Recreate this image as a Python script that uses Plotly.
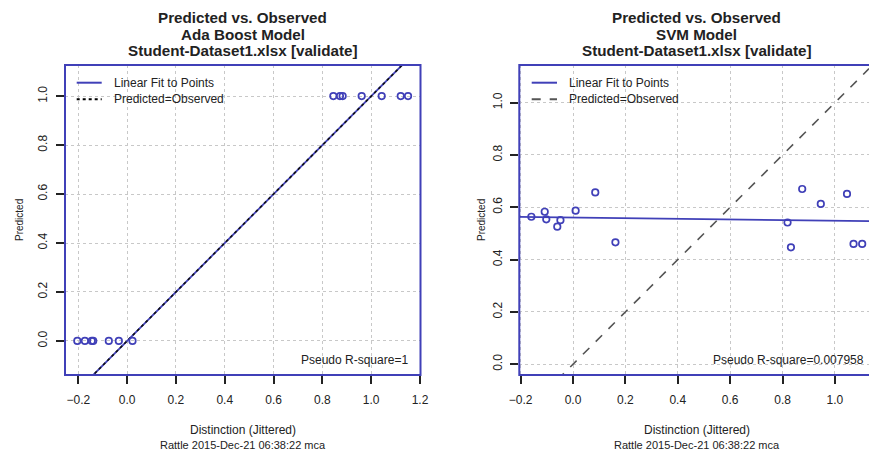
import numpy as np
import plotly.graph_objects as go

W, H = 869, 456

# Ada Boost model: jittered observed class vs predicted
ada_x = [-0.204, -0.173, -0.145, -0.139, -0.075, -0.034, 0.022,
         0.845, 0.872, 0.883, 0.961, 1.043, 1.121, 1.151]
ada_pred = [0, 0, 0, 0, 0, 0, 0, 1, 1, 1, 1, 1, 1, 1]

# SVM model
svm_x = [-0.159, -0.108, -0.102, -0.060, -0.048, 0.010, 0.085, 0.162,
         0.819, 0.832, 0.875, 0.946, 1.046, 1.071, 1.104]
svm_pred = [0.564, 0.583, 0.554, 0.526, 0.551, 0.587, 0.657, 0.466,
            0.542, 0.447, 0.670, 0.613, 0.651, 0.460, 0.460]

model_names = ["Ada Boost Model", "SVM Model"]
rsq_labels = ["Pseudo R-square=1", "Pseudo R-square=0.007958"]
x_title = "Distinction (Jittered)"
sub_title = "Rattle 2015-Dec-21 06:38:22 mca"

BLUE = "#4040b8"
TXT = "#222222"
FONT = "Liberation Sans, Arial, sans-serif"


def px(x):
    return x / W


def py(y):
    return 1 - y / H


fig = go.Figure()

panels = [
    dict(x=ada_x, y=ada_pred, xa="x", ya="y", xr=[-0.2545, 1.202], yr=[-0.139, 1.127],
         dash="dot", dcol="#111111"),
    dict(x=svm_x, y=svm_pred, xa="x2", ya="y2", xr=[-0.205, 1.13], yr=[-0.041, 1.144],
         dash="dash", dcol="#555555"),
]

for p in panels:
    xs = np.array(p["x"])
    ys = np.array(p["y"])
    obs = np.round(xs)
    slope, icpt = np.polyfit(obs, ys, 1)
    lx = np.array(p["xr"])
    # linear fit
    fig.add_trace(go.Scatter(x=lx, y=icpt + slope * lx, mode="lines", xaxis=p["xa"], yaxis=p["ya"],
                             line=dict(color=BLUE, width=1.8), showlegend=False, hoverinfo="skip"))
    # predicted = observed
    fig.add_trace(go.Scatter(x=lx, y=lx, mode="lines", xaxis=p["xa"], yaxis=p["ya"],
                             line=dict(color=p["dcol"], width=1.6, dash=p["dash"]),
                             showlegend=False, hoverinfo="skip"))
    fig.add_trace(go.Scatter(x=xs, y=ys, mode="markers", xaxis=p["xa"], yaxis=p["ya"],
                             marker=dict(symbol="circle-open", size=6.5, color=BLUE,
                                         line=dict(width=1.7, color=BLUE)),
                             showlegend=False))

ax_common = dict(showgrid=True, gridcolor="#c8c8c8", griddash="dot", gridwidth=1.2,
                 zeroline=False, showline=False, ticks="outside", ticklen=8, tickwidth=1.5,
                 tickcolor="#222222", dtick=0.2, tick0=0, tickformat=".1f", automargin=False,
                 tickfont=dict(family=FONT, size=12, color=TXT))

left_dom = [px(65), px(420.5)]
right_dom = [px(519.3), 1.0]
ydom = [py(375), py(65)]

fig.update_layout(
    width=W, height=H,
    margin=dict(l=0, r=0, t=0, b=0, pad=0, autoexpand=False),
    paper_bgcolor="white", plot_bgcolor="white",
    showlegend=False,
    xaxis=dict(domain=left_dom, range=panels[0]["xr"], anchor="y", ticklabelstandoff=6, **ax_common),
    yaxis=dict(domain=ydom, range=panels[0]["yr"], anchor="x", tickangle=-90,
               ticklabelstandoff=4, **ax_common),
    xaxis2=dict(domain=right_dom, range=panels[1]["xr"], anchor="y2", ticklabelstandoff=6, **ax_common),
    yaxis2=dict(domain=ydom, range=panels[1]["yr"], anchor="x2", tickangle=-90,
                ticklabelstandoff=4, **ax_common),
)

shapes = []
# plot boxes
shapes.append(dict(type="rect", xref="paper", yref="paper", x0=left_dom[0], x1=left_dom[1],
                   y0=ydom[0], y1=ydom[1], line=dict(color=BLUE, width=2), layer="above"))
shapes.append(dict(type="rect", xref="paper", yref="paper", x0=right_dom[0], x1=px(874),
                   y0=ydom[0], y1=ydom[1], line=dict(color=BLUE, width=2), layer="above"))

annotations = []
centers = [242.7, 696.5]
ylab_x = [20, 482]
for i, cx in enumerate(centers):
    for line, yy in zip(["Predicted vs. Observed", model_names[i],
                         "Student-Dataset1.xlsx [validate]"], [17.5, 34, 51]):
        annotations.append(dict(text="<b>" + line + "</b>", x=px(cx), y=py(yy), xref="paper",
                                yref="paper", showarrow=False, xanchor="center", yanchor="middle",
                                font=dict(family=FONT, size=15.2, color=TXT)))
    annotations.append(dict(text=x_title, x=px(cx), y=py(430), xref="paper", yref="paper",
                            showarrow=False, xanchor="center", yanchor="middle",
                            font=dict(family=FONT, size=12, color=TXT)))
    annotations.append(dict(text=sub_title, x=px(cx), y=py(445), xref="paper", yref="paper",
                            showarrow=False, xanchor="center", yanchor="middle",
                            font=dict(family=FONT, size=11, color=TXT)))
    annotations.append(dict(text="Predicted", x=px(ylab_x[i]), y=py(220), xref="paper", yref="paper",
                            showarrow=False, textangle=-90, xanchor="center", yanchor="middle",
                            font=dict(family=FONT, size=10, color=TXT)))

# legends
for lx0, lx1, tx, dcol, dash in [(76.7, 101.7, 111.7, "black", "dot"),
                                 (531.7, 557, 566.7, "#555555", "dash")]:
    shapes.append(dict(type="line", xref="paper", yref="paper", x0=px(lx0), x1=px(lx1),
                       y0=py(82.7), y1=py(82.7), line=dict(color=BLUE, width=2)))
    shapes.append(dict(type="line", xref="paper", yref="paper", x0=px(lx0), x1=px(lx1),
                       y0=py(99.3), y1=py(99.3), line=dict(color=dcol, width=2, dash=dash)))
    for txt, yy in [("Linear Fit to Points", 82.7), ("Predicted=Observed", 99.3)]:
        annotations.append(dict(text=txt, x=px(tx), y=py(yy), xref="paper", yref="paper",
                                showarrow=False, xanchor="left", yanchor="middle",
                                font=dict(family=FONT, size=12, color=TXT)))

annotations.append(dict(text=rsq_labels[0], x=px(410), y=py(360), xref="paper", yref="paper",
                        showarrow=False, xanchor="right", yanchor="middle",
                        font=dict(family=FONT, size=12, color=TXT)))
annotations.append(dict(text=rsq_labels[1], x=px(710.7), y=py(360), xref="paper", yref="paper",
                        showarrow=False, xanchor="left", yanchor="middle",
                        font=dict(family=FONT, size=12, color=TXT)))

fig.update_layout(shapes=shapes, annotations=annotations)
fig.write_html("out.html", config={"displayModeBar": False},
               post_script="document.body.style.margin='0';")
